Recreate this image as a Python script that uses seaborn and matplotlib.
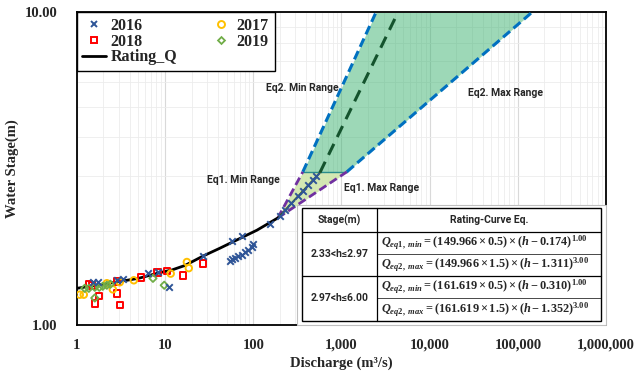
import matplotlib
matplotlib.use("Agg")
import matplotlib.pyplot as plt
import matplotlib.ticker as mticker
from matplotlib.lines import Line2D
import seaborn as sns
import pandas as pd

# --- data ---
q_2016 = [1.52, 1.75, 2.84, 3.32, 6.4, 8.3, 11.0, 26.8, 57, 74, 154,
          54, 58, 62, 67, 74, 80, 88, 96, 100,
          200, 230, 270, 320, 370, 420, 480, 520]
h_2016 = [1.37, 1.37, 1.39, 1.40, 1.47, 1.48, 1.32, 1.66, 1.86, 1.93, 2.10,
          1.60, 1.62, 1.64, 1.66, 1.68, 1.71, 1.74, 1.78, 1.81,
          2.24, 2.33, 2.45, 2.58, 2.69, 2.80, 2.92, 2.99]

q_2017 = [1.08, 1.20, 2.19, 2.56, 3.07, 4.43, 11.6, 17.7, 18.6]
h_2017 = [1.25, 1.25, 1.36, 1.30, 1.37, 1.39, 1.46, 1.59, 1.52]

q_2018 = [1.37, 1.48, 1.78, 1.60, 2.84, 3.07, 2.84, 5.31, 8.25, 10.5, 15.9, 26.8]
h_2018 = [1.35, 1.34, 1.24, 1.17, 1.26, 1.16, 1.38, 1.42, 1.47, 1.49, 1.44, 1.57]

q_2019 = [1.23, 1.37, 1.60, 1.80, 1.97, 2.19, 1.60, 2.4, 7.3, 9.8]
h_2019 = [1.31, 1.31, 1.32, 1.32, 1.33, 1.34, 1.22, 1.35, 1.41, 1.34]

rating_q = [1.0, 2.0, 3.7, 5.0, 8.7, 12, 16.8, 26.8, 41.8, 65, 110, 190]
rating_h = [1.31, 1.35, 1.39, 1.41, 1.47, 1.50, 1.55, 1.66, 1.76, 1.87, 2.01, 2.20]

# fan of the extrapolated rating curves (end points)
mid_q = [190, 569]
mid_h = [2.20, 3.07]
mid_ext_q = [569, 4370]
mid_ext_h = [3.07, 10.0]

eq1_h = [2.20, 3.09]
eq1_min_q = [190, 365]
eq1_max_q = [190, 1151]

eq2_h = [3.09, 10.0]
eq2_min_q = [365, 2460]
eq2_max_q = [1151, 144000]

x_ticks = [1, 10, 100, 1000, 10000, 100000, 1000000]
y_ticks = [1, 10]

table_stage = ["2.33<h\u22642.97", "2.97<h\u22646.00"]
table_eq = [
    r"$Q_{eq1,\ min} = (149.966 \times 0.5) \times (h - 0.174)^{1.00}$",
    r"$Q_{eq2,\ max} = (149.966 \times 1.5) \times (h - 1.311)^{3.00}$",
    r"$Q_{eq2,\ min} = (161.619 \times 0.5) \times (h - 0.310)^{1.00}$",
    r"$Q_{eq2,\ max} = (161.619 \times 1.5) \times (h - 1.352)^{3.00}$",
]

# --- style ---
sns.set_style("whitegrid")
plt.rcParams["font.family"] = ["Liberation Serif", "DejaVu Serif"]
plt.rcParams["mathtext.fontset"] = "custom"
plt.rcParams["mathtext.rm"] = "Liberation Serif:bold"
plt.rcParams["mathtext.it"] = "Liberation Serif:italic:bold"
plt.rcParams["mathtext.bf"] = "Liberation Serif:bold"

BLUE = "#2f5597"
YELLOW = "#ffc000"
RED = "#ff0000"
GREEN = "#70ad47"
SANS = ["Roboto", "DejaVu Sans"]

fig = plt.figure(figsize=(6.4, 3.77), dpi=100)
ax = fig.add_axes([0.120, 0.138, 0.827, 0.829])
ax.set_xscale("log")
ax.set_yscale("log")

# fan fills
ax.fill_betweenx(eq2_h, eq2_min_q, eq2_max_q, color="#3cb371", alpha=0.5, lw=0, zorder=1)
ax.fill_betweenx(eq1_h, eq1_min_q, eq1_max_q, color="#cfe6ab", alpha=0.9, lw=0, zorder=1)
ax.plot([eq1_min_q[1], eq1_max_q[1]], [eq1_h[1], eq1_h[1]], color="#2a8c8c", lw=1, zorder=2)

# rating curves
dash = (0, (3, 1.5))
sns.lineplot(x=eq2_min_q, y=eq2_h, ax=ax, color="#0070c0", lw=2.2, linestyle=dash, zorder=3)
sns.lineplot(x=eq2_max_q, y=eq2_h, ax=ax, color="#0070c0", lw=2.2, linestyle=dash, zorder=3)
sns.lineplot(x=eq1_min_q, y=eq1_h, ax=ax, color="#7030a0", lw=2, linestyle=dash, zorder=3)
sns.lineplot(x=eq1_max_q, y=eq1_h, ax=ax, color="#7030a0", lw=2, linestyle=dash, zorder=3)
sns.lineplot(x=mid_ext_q, y=mid_ext_h, ax=ax, color="#14532d", lw=2.2, linestyle=(0, (4, 2.5)), zorder=3)
sns.lineplot(x=mid_q, y=mid_h, ax=ax, color="#375623", lw=1.3, zorder=3)
sns.lineplot(x=rating_q, y=rating_h, ax=ax, color="black", lw=2, zorder=4)

# observations
obs = pd.concat([
    pd.DataFrame({"Q": q_2016, "h": h_2016, "year": "2016"}),
    pd.DataFrame({"Q": q_2017, "h": h_2017, "year": "2017"}),
    pd.DataFrame({"Q": q_2018, "h": h_2018, "year": "2018"}),
    pd.DataFrame({"Q": q_2019, "h": h_2019, "year": "2019"}),
])
sty = {
    "2016": dict(marker="x", color=BLUE, s=22, linewidths=1.4),
    "2017": dict(marker="o", facecolor="none", edgecolor=YELLOW, s=22, linewidths=1.4),
    "2018": dict(marker="s", facecolor="none", edgecolor=RED, s=22, linewidths=1.4),
    "2019": dict(marker="D", facecolor="none", edgecolor=GREEN, s=14, linewidths=1.3),
}
for yr in ["2018", "2017", "2019", "2016"]:
    d = obs[obs["year"] == yr]
    sns.scatterplot(data=d, x="Q", y="h", ax=ax, zorder=5, legend=False, **sty[yr])

ax.set_xlim(1, 1e6)
ax.set_ylim(1, 10)
ax.set_xticks(x_ticks)
ax.xaxis.set_major_formatter(mticker.FuncFormatter(lambda v, p: f"{int(round(v)):,}"))
ax.set_yticks(y_ticks)
ax.yaxis.set_major_formatter(mticker.FuncFormatter(lambda v, p: f"{v:.2f}"))
ax.xaxis.set_minor_formatter(mticker.NullFormatter())
ax.yaxis.set_minor_formatter(mticker.NullFormatter())
ax.tick_params(which="both", length=0)
ax.tick_params(axis="x", pad=10, labelsize=10.5)
ax.tick_params(axis="y", pad=14, labelsize=10.5)
for lab in ax.get_xticklabels() + ax.get_yticklabels():
    lab.set_fontweight("bold")
ax.grid(which="major", color="#d9d9d9", lw=0.8)
ax.grid(which="minor", color="#ececec", lw=0.6)
for sp in ax.spines.values():
    sp.set_color("black")
    sp.set_linewidth(1.3)

ax.set_xlabel("Discharge (m\u00b3/s)", fontsize=10.5, fontweight="bold", labelpad=3)
ax.set_ylabel("Water Stage(m)", fontsize=10.5, fontweight="bold", labelpad=4)

# legend
handles = [
    Line2D([], [], marker="x", color=BLUE, ls="none", ms=5, mew=1.4),
    Line2D([], [], marker="s", mfc="none", mec=RED, ls="none", ms=5, mew=1.4),
    Line2D([], [], color="black", lw=2),
    Line2D([], [], marker="o", mfc="none", mec=YELLOW, ls="none", ms=5, mew=1.4),
    Line2D([], [], marker="D", mfc="none", mec=GREEN, ls="none", ms=3.5, mew=1.3),
]
labels = ["2016", "2018", "Rating_Q", "2017", "2019"]
leg = ax.legend(handles, labels, ncol=2, loc="upper left", borderaxespad=0,
                frameon=True, fancybox=False, edgecolor="black", framealpha=1,
                prop={"family": "Liberation Serif", "weight": "bold", "size": 11.5},
                handlelength=1.5, handletextpad=0.25, columnspacing=2.0,
                labelspacing=-0.02, borderpad=0.35)
leg.get_frame().set_linewidth(1.0)
leg.set_zorder(10)

# range annotations
ann = dict(fontsize=7.5, fontweight="bold", family=SANS,
           transform=fig.transFigure, va="center", ha="left", zorder=6)
fig.text(266 / 640, 1 - 88 / 377, "Eq2. Min Range", **ann)
fig.text(468 / 640, 1 - 93 / 377, "Eq2. Max Range", **ann)
fig.text(207 / 640, 1 - 180 / 377, "Eq1. Min Range", **ann)
fig.text(344 / 640, 1 - 188 / 377, "Eq1. Max Range", **ann)

# rating-curve table
def fx(px):
    return px / 640

def fy(py):
    return 1 - py / 377

bg = plt.Rectangle((fx(297), fy(325)), fx(606) - fx(297), fy(205) - fy(325),
                   transform=fig.transFigure, facecolor="white", edgecolor="#bfbfbf",
                   lw=0.8, zorder=7)
fig.add_artist(bg)
box = plt.Rectangle((fx(302), fy(321)), fx(601) - fx(302), fy(208) - fy(321),
                    transform=fig.transFigure, facecolor="white", edgecolor="black",
                    lw=1.0, zorder=8)
fig.add_artist(box)
lk = dict(transform=fig.transFigure, color="black", zorder=9)
fig.add_artist(Line2D([fx(377), fx(377)], [fy(208), fy(321)], lw=0.9, **lk))
fig.add_artist(Line2D([fx(302), fx(601)], [fy(232), fy(232)], lw=0.9, **lk))
fig.add_artist(Line2D([fx(302), fx(601)], [fy(276), fy(276)], lw=0.9, **lk))
fig.add_artist(Line2D([fx(377), fx(601)], [fy(254), fy(254)], lw=0.5, **lk))
fig.add_artist(Line2D([fx(377), fx(601)], [fy(298), fy(298)], lw=0.5, **lk))

hdr = dict(fontsize=7.5, fontweight="bold", family=SANS,
           transform=fig.transFigure, ha="center", va="center", zorder=9)
fig.text(fx(339.5), fy(220), "Stage(m)", **hdr)
fig.text(fx(489), fy(220), "Rating-Curve Eq.", **hdr)
fig.text(fx(339.5), fy(254), table_stage[0], **hdr)
fig.text(fx(339.5), fy(298), table_stage[1], **hdr)
for py, eq in zip([243, 265, 287, 310], table_eq):
    fig.text(fx(381), fy(py), eq, fontsize=8.8, transform=fig.transFigure,
             ha="left", va="center", zorder=9)

fig.savefig("out.png", dpi=100)
